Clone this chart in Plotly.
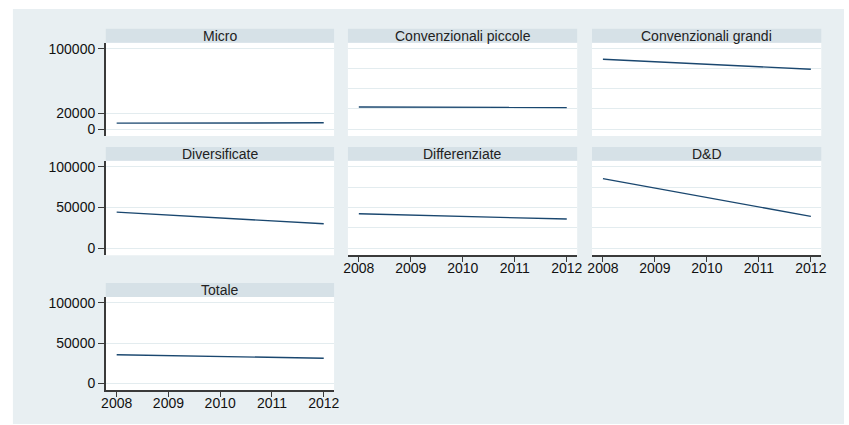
import plotly.graph_objects as go

years = [2008, 2009, 2010, 2011, 2012]
panel_names = ["Micro", "Convenzionali piccole", "Convenzionali grandi",
               "Diversificate", "Differenziate", "D&D", "Totale"]
micro = [7400, 7500, 7600, 7700, 7800]
conv_piccole = [27500, 27300, 27200, 27000, 26800]
conv_grandi = [86800, 83600, 80700, 77400, 74400]
diversificate = [44400, 40900, 37200, 33700, 30000]
differenziate = [42300, 40700, 39000, 37400, 35800]
dd = [85500, 73800, 62400, 50700, 39100]
totale = [35400, 34400, 33300, 32200, 31200]
series = [micro, conv_piccole, conv_grandi, diversificate, differenziate, dd, totale]

W, H = 849, 425
BG = "#E8EFF2"
STRIP = "#D6E1E7"
GRID = "#E3ECEF"
LINE = "#1A476F"
AXIS = "#3A3A3A"
FONT = "Liberation Sans, Arial, sans-serif"

cols = [(102, 333), (347, 579), (594, 826)]
rows = [(27, 41, 135), (146, 160, 255), (283, 297, 391)]  # strip top, plot top, plot bottom
pos = [(0, 0), (0, 1), (0, 2), (1, 0), (1, 1), (1, 2), (2, 0)]

ytick_sets = {
    0: [0, 20000, 100000],
    3: [0, 50000, 100000],
    6: [0, 50000, 100000],
}
grid25 = [0, 25000, 50000, 75000, 100000]
show_x = {4, 5, 6}

fig = go.Figure()
shapes = [dict(type="rect", xref="paper", yref="paper", x0=8 / W, x1=1, y0=0, y1=1 - 7 / H,
               fillcolor=BG, line=dict(width=0), layer="below")]
annotations = []

for i, (name, vals) in enumerate(zip(panel_names, series)):
    r, c = pos[i]
    x0, x1 = cols[c]
    st, pt, pb = rows[r]
    n = "" if i == 0 else str(i + 1)
    xa, ya = "xaxis" + n, "yaxis" + n
    fig.add_trace(go.Scatter(x=years, y=vals, mode="lines", line=dict(color=LINE, width=1.4),
                             xaxis="x" + n, yaxis="y" + n, showlegend=False, hoverinfo="skip"))
    left = c == 0
    yt = ytick_sets.get(i, grid25)
    fig.update_layout(**{
        xa: dict(domain=[x0 / W, x1 / W], anchor="y" + n, range=[2007.79, 2012.2],
                 tickvals=years, ticktext=[str(y) for y in years],
                 showticklabels=i in show_x, ticks="outside" if i in show_x else "",
                 ticklen=5, tickcolor=AXIS, tickwidth=1.2, ticklabelstandoff=-6,
                 showline=i in show_x, linecolor=AXIS, linewidth=1.5,
                 showgrid=False, zeroline=False,
                 tickfont=dict(family=FONT, size=14, color="#111")),
        ya: dict(domain=[1 - pb / H, 1 - pt / H], anchor="x" + n, range=[-8640, 107400],
                 tickvals=yt, ticktext=[str(v) for v in yt],
                 showticklabels=left, ticks="outside" if left else "",
                 ticklen=6, tickcolor=AXIS, tickwidth=1.2,
                 showline=left, linecolor=AXIS, linewidth=1.5,
                 showgrid=True, gridcolor=GRID, gridwidth=1, zeroline=False,
                 tickfont=dict(family=FONT, size=14, color="#111")),
    })
    shapes.append(dict(type="rect", xref="paper", yref="paper", x0=x0 / W, x1=x1 / W,
                       y0=1 - pb / H, y1=1 - pt / H, fillcolor="white", line=dict(width=0),
                       layer="below"))
    shapes.append(dict(type="rect", xref="paper", yref="paper", x0=x0 / W, x1=x1 / W,
                       y0=1 - pt / H, y1=1 - st / H, fillcolor=STRIP, line=dict(width=0),
                       layer="below"))
    annotations.append(dict(text=name, xref="paper", yref="paper", x=(x0 + x1) / 2 / W,
                            y=1 - (st + pt) / 2 / H, xanchor="center", yanchor="middle",
                            showarrow=False, font=dict(family=FONT, size=14, color="#222")))

fig.update_layout(width=W, height=H, margin=dict(l=0, r=0, t=0, b=0),
                  paper_bgcolor="white", plot_bgcolor="rgba(0,0,0,0)",
                  shapes=shapes, annotations=annotations)
fig.write_html("out.html")
